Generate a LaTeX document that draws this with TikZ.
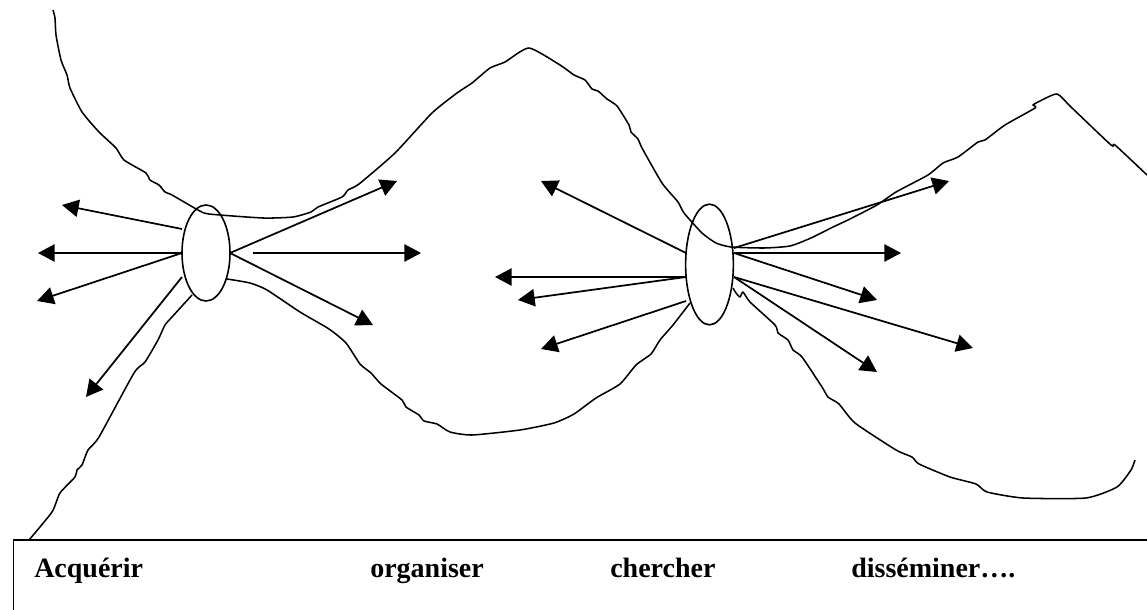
\documentclass[tikz,border=0pt]{standalone}
\usepackage{fontspec}
\setmainfont{Liberation Serif}
\usetikzlibrary{arrows.meta,shapes.geometric}
\tikzset{
  hub/.style={draw,ellipse,inner sep=0pt,outer sep=0pt,line width=1.2pt},
  ray/.style={line width=1.3pt,-{Triangle[length=12.5pt,width=13pt]}},
  contour/.style={line width=1.15pt,line join=round},
  word/.style={anchor=base west,inner sep=0pt,font=\bfseries\fontsize{21pt}{24pt}\selectfont}
}
\begin{document}
\begin{tikzpicture}[x=0.75pt,y=-0.75pt]
\useasboundingbox (0,0) rectangle (1147,610);
\clip (0,0) rectangle (1147,610);
\fill[white] (0,0) rectangle (1147,610);
% contours
\draw[contour] plot[smooth,tension=0.35] coordinates {(53,10)(55,18)(56,35)(61,60)(67,75)(70,88)(82,112)(99,132)(116,148)(124,160)(146,173)(150,180)(159,185)(165,192)(172,195)(198,210)(209,214)(263,218)(293,217)(311,212)(318,207)(342,197)(348,190)(359,184)(395,153)(432,113)(457,93)(472,83)(490,68)(505,62)(529,48)(560,65)(574,75)(585,80)(592,89)(598,91)(607,99)(617,106)(629,125)(631,132)(638,139)(642,148)(662,183)(678,202)(684,213)(702,233)(716,243)(731,247)(764,248)(790,246)(811,238)(833,227)(848,220)(877,205)(896,192)(928,175)(943,163)(958,157)(978,142)(985,140)(1005,125)(1035,108)(1033,105)(1040,101)(1057,94)(1071,107)(1111,145)(1115,145)(1147,175)};
\draw[contour] plot[smooth,tension=0.35] coordinates {(29,540)(52,512)(60,493)(75,477)(77,470)(82,465)(88,450)(99,437)(134,373)(145,362)(158,340)(165,325)(172,317)(192,295)};
\draw[contour] plot[smooth,tension=0.35] coordinates {(227,279)(250,283)(267,290)(300,312)(329,329)(346,343)(360,364)(371,373)(381,384)(402,400)(406,407)(419,415)(424,421)(437,424)(450,432)(472,435)(520,430)(554,423)(574,414)(596,398)(620,384)(636,365)(651,354)(660,340)(673,325)(690,303)};
\draw[contour] plot[smooth,tension=0.35] coordinates {(733,288)(736,293)(740,297)(743,292)(750,302)(775,325)(778,333)(788,340)(793,350)(802,357)(822,387)(828,397)(839,404)(855,423)(896,450)(912,457)(919,464)(950,477)(976,484)(987,492)(1023,498)(1086,498)(1117,487)(1131,470)(1135,460)};
% hubs
\node[hub,minimum width=36pt,minimum height=72pt] (hubL) at (206,253) {};
\node[hub,minimum width=35.8pt,minimum height=90.5pt] (hubR) at (709.5,264.5) {};
% free ends
\coordinate (a1s) at (182,229); \coordinate (a1) at (62,205);
\coordinate (a2s) at (182,253); \coordinate (a2) at (38,253);
\coordinate (a3) at (37,301);
\coordinate (a4s) at (182,277); \coordinate (a4) at (86,397);
\coordinate (a5s) at (230,253); \coordinate (a5) at (397,181);
\coordinate (a6s) at (253,253); \coordinate (a6) at (421,253);
\coordinate (a7) at (373,325);
\coordinate (b1s) at (686,253); \coordinate (b1) at (541,181);
\coordinate (b2s) at (686,277); \coordinate (b2) at (495,277);
\coordinate (b3) at (518,300);
\coordinate (b4s) at (686,301); \coordinate (b4) at (541,349);
\coordinate (b5s) at (734,248); \coordinate (b5) at (949,181);
\coordinate (b6s) at (734,253); \coordinate (b6) at (901,253);
\coordinate (b7) at (877,300);
\coordinate (b8s) at (734,277); \coordinate (b8) at (973,348);
\coordinate (b9) at (877,372);
% rays
\draw[ray] (a1s) -- (a1);
\draw[ray] (a2s) -- (a2);
\draw[ray] (a2s) -- (a3);
\draw[ray] (a4s) -- (a4);
\draw[ray] (a5s) -- (a5);
\draw[ray] (a6s) -- (a6);
\draw[ray] (a5s) -- (a7);
\draw[ray] (b1s) -- (b1);
\draw[ray] (b2s) -- (b2);
\draw[ray] (b2s) -- (b3);
\draw[ray] (b4s) -- (b4);
\draw[ray] (b5s) -- (b5);
\draw[ray] (b6s) -- (b6);
\draw[ray] (b6s) -- (b7);
\draw[ray] (b8s) -- (b8);
\draw[ray] (b8s) -- (b9);
% legend box
\draw[line width=1.3pt] (13.5,630) -- (13.5,540) -- (1160,540);
\node[word] (w1) at (34,577) {Acquérir};
\node[word] (w2) at (370,577) {organiser};
\node[word] (w3) at (610,577) {chercher};
\node[word] (w4) at (851,577) {disséminer….};
\end{tikzpicture}
\end{document}
